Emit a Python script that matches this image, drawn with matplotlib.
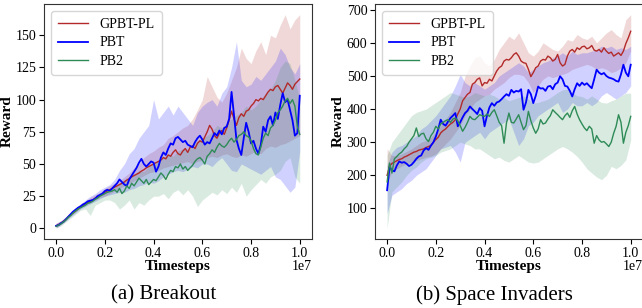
import matplotlib.pyplot as plt
import numpy as np

plt.rcParams["font.family"] = ["Liberation Serif", "DejaVu Serif"]

methods = ["GPBT-PL", "PBT", "PB2"]
colors = ["#b22a2a", "#0000ff", "#2e8b57"]
widths = [1.0, 1.3, 1.0]

# x grids (in units of 1e7 timesteps)
t_mean = np.linspace(0, 1, 101)
t_band = np.linspace(0, 1, 51)

# ---------------- Breakout ----------------
bo_gpbt = [2, 3, 4, 5.5, 7, 9, 10.5, 12, 13.5, 15, 16.5,
           18, 19, 20, 21, 22, 23.5, 24.5, 25.5, 26.5, 28,
           29, 30, 31, 32, 33, 34, 35, 36, 37.5, 38.5,
           40, 41, 42, 43, 44.5, 45.5, 47, 48, 49, 50,
           51, 52, 53, 55, 54, 57, 56, 59, 61, 58,
           57, 60, 62, 59, 63, 64, 62, 66, 68, 67,
           71, 75, 80, 77, 72, 70, 74, 76, 73, 78,
           84, 91, 85, 80, 86, 89, 87, 91, 92, 95,
           97, 100, 99, 101, 100, 103, 106, 108, 107, 110,
           111, 108, 105, 109, 113, 111, 108, 112, 114, 116]
bo_pbt = [2, 2.5, 4, 5, 7, 9, 11, 13, 14.5, 16, 17,
          18.5, 19.5, 21, 21.5, 22, 23, 25, 26, 27, 29,
          30, 29, 31, 33, 35, 38, 36, 34, 33, 38,
          41, 44, 47, 51, 54, 50, 48, 50, 52, 51,
          44, 48, 55, 59, 57, 62, 66, 65, 70, 71,
          69, 67, 68, 65, 64, 63, 67, 70, 72, 69,
          65, 67, 66, 70, 74, 72, 76, 73, 78, 79,
          85, 106, 88, 69, 62, 57, 70, 82, 75, 66,
          68, 62, 58, 65, 79, 75, 84, 87, 80, 90,
          85, 96, 105, 98, 100, 92, 84, 72, 74, 103]
bo_pb2 = [1.5, 2.5, 3.5, 5, 6.5, 8.5, 10, 12, 13.5, 15, 16,
          17, 18, 19.5, 20, 21, 22.5, 23.5, 25, 26, 27,
          28, 28.5, 29, 30, 28, 31, 27, 29, 33, 31,
          35, 33, 36, 39, 37, 35, 38, 34, 36, 38,
          37, 40, 43, 41, 38, 42, 45, 44, 48, 47,
          50, 46, 48, 45, 47, 49, 52, 54, 55, 53,
          50, 56, 58, 61, 59, 63, 66, 64, 63, 65,
          68, 70, 67, 69, 72, 73, 75, 72, 71, 68,
          62, 58, 57, 63, 70, 74, 72, 78, 80, 84,
          90, 92, 95, 99, 101, 97, 100, 95, 79, 73]

bo_gpbt_lo = [0.5, 3, 6, 10, 13, 16, 18, 20, 22, 24, 25,
              27, 29, 31, 33, 35, 37, 39, 41, 43, 44,
              45, 47, 48, 49, 50, 51, 52, 50, 52, 53,
              55, 56, 55, 57, 58, 56, 55, 57, 56, 58,
              60, 58, 62, 64, 63, 65, 66, 68, 70, 72]
bo_gpbt_hi = [4, 6, 9, 13, 16, 19, 21, 24, 26, 28, 31,
              33, 35, 37, 40, 43, 47, 50, 55, 58, 60,
              63, 65, 70, 72, 75, 78, 80, 85, 92, 100,
              118, 110, 102, 98, 105, 115, 125, 140, 132, 128,
              138, 145, 135, 150, 148, 158, 166, 155, 162, 166]
bo_pbt_lo = [0.5, 3, 6, 9, 12, 15, 17, 19, 21, 23, 25,
             26, 27, 28, 28, 30, 31, 33, 34, 36, 35,
             37, 40, 42, 44, 45, 44, 46, 48, 47, 50,
             50, 48, 52, 55, 50, 45, 44, 50, 48, 46,
             44, 42, 45, 48, 40, 38, 33, 28, 32, 60]
bo_pbt_hi = [4, 6, 9, 13, 16, 19, 22, 25, 27, 30, 32,
             34, 38, 45, 50, 58, 62, 70, 75, 80, 100,
             85, 90, 95, 88, 95, 90, 85, 80, 90, 95,
             98, 100, 95, 105, 110, 125, 145, 115, 110, 112,
             118, 115, 120, 125, 130, 140, 135, 125, 120, 128]
bo_pb2_lo = [0, 2, 5, 8, 11, 14, 15, 10, 18, 20, 22,
             22, 20, 15, 18, 22, 15, 20, 18, 22, 25,
             25, 27, 23, 28, 30, 26, 30, 25, 17, 22,
             25, 28, 26, 30, 27, 32, 28, 35, 25, 30,
             34, 38, 35, 40, 42, 45, 52, 55, 40, 35]
bo_pb2_hi = [3, 5, 8, 12, 15, 18, 20, 22, 24, 26, 28,
             30, 32, 35, 38, 40, 42, 45, 44, 48, 50,
             52, 55, 58, 56, 60, 62, 60, 65, 68, 70,
             72, 75, 80, 78, 82, 85, 88, 90, 95, 92,
             95, 100, 105, 108, 115, 125, 130, 128, 115, 100]

# ---------------- Space Invaders ----------------
si_gpbt = [200, 228, 236, 240, 244, 248, 250, 255, 258, 262, 266,
           270, 272, 276, 278, 280, 284, 287, 290, 300, 308,
           315, 328, 335, 340, 348, 355, 360, 368, 385, 400,
           425, 435, 445, 450, 475, 480, 490, 494, 470, 480,
           478, 490, 485, 500, 515, 525, 530, 545, 550, 548,
           555, 565, 570, 560, 545, 540, 538, 520, 498, 510,
           525, 530, 545, 550, 548, 560, 555, 545, 550, 565,
           540, 530, 535, 560, 575, 580, 572, 585, 580, 588,
           590, 582, 585, 592, 578, 575, 580, 572, 585, 575,
           568, 572, 560, 565, 570, 562, 575, 598, 615, 635]
si_pbt = [155, 225, 215, 212, 230, 242, 238, 240, 235, 228, 232,
          240, 250, 257, 260, 275, 282, 277, 290, 300, 317,
          340, 368, 355, 350, 362, 373, 380, 388, 348, 360,
          375, 388, 395, 408, 400, 393, 385, 403, 395, 348,
          380, 405, 418, 410, 420, 423, 430, 438, 445, 440,
          458, 450, 455, 453, 460, 398, 420, 458, 445, 418,
          440, 468, 462, 463, 455, 468, 470, 460, 475, 480,
          499, 490, 470, 468, 455, 438, 460, 478, 470, 480,
          473, 478, 470, 463, 490, 519, 510, 505, 509, 500,
          495, 493, 490, 485, 483, 505, 534, 510, 499, 534]
si_pb2 = [180, 237, 207, 250, 257, 265, 270, 280, 287, 300, 310,
          320, 343, 317, 325, 327, 310, 302, 320, 330, 348,
          340, 355, 360, 365, 368, 360, 370, 373, 365, 350,
          333, 345, 360, 378, 370, 368, 375, 383, 380, 378,
          385, 378, 390, 398, 380, 360, 350, 297, 358, 388,
          360, 358, 370, 383, 360, 338, 350, 393, 365, 343,
          327, 340, 368, 355, 358, 370, 380, 398, 390, 383,
          375, 368, 380, 388, 375, 395, 408, 385, 368, 355,
          343, 335, 348, 340, 297, 320, 307, 300, 302, 295,
          287, 300, 327, 348, 383, 360, 297, 330, 350, 378]

si_gpbt_lo = [180, 210, 220, 228, 235, 240, 245, 250, 255, 258, 265,
              280, 295, 310, 330, 350, 380, 400, 420, 430, 440,
              445, 460, 470, 480, 495, 505, 505, 500, 480, 450,
              470, 490, 500, 495, 500, 505, 510, 520, 525, 530,
              535, 530, 520, 525, 520, 510, 515, 525, 540, 575]
si_gpbt_hi = [280, 260, 260, 265, 272, 280, 290, 300, 305, 315, 330,
              350, 370, 390, 420, 450, 500, 530, 555, 560, 540,
              530, 550, 580, 600, 620, 610, 630, 600, 570, 560,
              575, 600, 590, 580, 575, 590, 610, 605, 625, 615,
              610, 620, 600, 615, 630, 640, 625, 615, 670, 685]
si_pbt_lo = [85, 140, 150, 160, 175, 185, 200, 210, 220, 240, 260,
             280, 285, 290, 270, 240, 300, 310, 320, 330, 310,
             330, 340, 350, 360, 370, 330, 290, 310, 350, 360,
             380, 390, 400, 410, 420, 390, 400, 420, 410, 410,
             420, 410, 420, 440, 450, 440, 430, 440, 450, 470]
si_pbt_hi = [230, 270, 285, 290, 300, 310, 320, 340, 350, 365, 380,
             400, 420, 440, 470, 505, 480, 470, 480, 470, 460,
             470, 480, 500, 510, 520, 530, 540, 530, 510, 520,
             530, 540, 545, 555, 560, 570, 560, 575, 565, 570,
             570, 575, 580, 590, 585, 590, 580, 585, 580, 590]
si_pb2_lo = [40, 150, 165, 180, 200, 215, 225, 240, 250, 255, 260,
             270, 275, 280, 290, 300, 295, 290, 280, 280, 270,
             260, 250, 255, 245, 240, 250, 260, 250, 240, 237,
             240, 250, 260, 270, 280, 287, 280, 270, 257, 240,
             220, 207, 195, 187, 200, 227, 220, 230, 247, 307]
si_pb2_hi = [260, 300, 320, 340, 360, 380, 390, 395, 400, 410, 420,
             430, 440, 450, 445, 440, 435, 440, 450, 445, 440,
             445, 440, 430, 435, 425, 430, 435, 440, 430, 418,
             420, 425, 430, 440, 450, 458, 460, 450, 440, 438,
             430, 440, 430, 420, 418, 425, 430, 440, 448, 448]

panels = [
    ([bo_gpbt, bo_pbt, bo_pb2],
     [(bo_gpbt_lo, bo_gpbt_hi), (bo_pbt_lo, bo_pbt_hi), (bo_pb2_lo, bo_pb2_hi)],
     "(a) Breakout", [0, 25, 50, 75, 100, 125, 150]),
    ([si_gpbt, si_pbt, si_pb2],
     [(si_gpbt_lo, si_gpbt_hi), (si_pbt_lo, si_pbt_hi), (si_pb2_lo, si_pb2_hi)],
     "(b) Space Invaders", [100, 200, 300, 400, 500, 600, 700]),
]

fig = plt.figure(figsize=(6.42, 3.08), dpi=100)
ax_rects = [[0.0685, 0.224, 0.4174, 0.763], [0.584, 0.224, 0.4174, 0.763]]
caption_x = [0.2547, 0.7695]
ylabel_x = [-0.112, -0.112]

for rect, (means, bands, caption, yticks), cx, lx in zip(ax_rects, panels, caption_x, ylabel_x):
    ax = fig.add_axes(rect)
    for m, (lo, hi), name, c, lw in zip(means, bands, methods, colors, widths):
        ax.fill_between(t_band * 1e7, lo, hi, color=c, alpha=0.18, linewidth=0)
        ax.plot(t_mean * 1e7, m, color=c, linewidth=lw, label=name)
    ax.set_yticks(yticks)
    ax.set_xticks(np.arange(0, 1.01, 0.2) * 1e7)
    ax.tick_params(labelsize=10, length=3.5, width=0.8, pad=2)
    ax.set_xlabel("Timesteps", fontsize=11, fontweight="bold")
    ax.set_ylabel("Reward", fontsize=11, fontweight="bold")
    ax.xaxis.set_label_coords(0.5, -0.09)
    ax.yaxis.set_label_coords(lx, 0.5)
    ax.xaxis.get_offset_text().set_visible(False)
    ax.text(1.0, -0.09, "1e7", transform=ax.transAxes, ha="right", va="top",
            fontsize=10)
    for s in ax.spines.values():
        s.set_color("#333333")
    ax.legend(loc="upper left", fontsize=10, handlelength=2.2,
              borderpad=0.5, labelspacing=0.4)
    fig.text(cx, 0.042, caption, ha="center", va="center", fontsize=15)

fig.savefig("out.png", dpi=100)
